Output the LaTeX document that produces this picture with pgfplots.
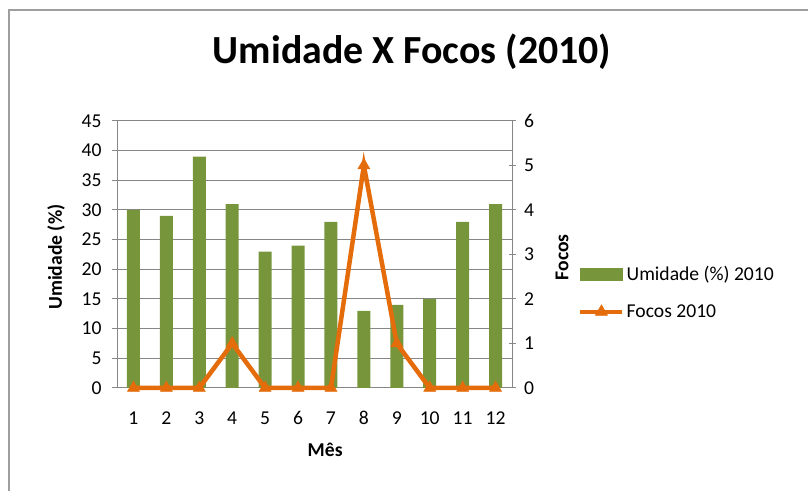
\documentclass[border=0pt]{standalone}
\usepackage{pgfplots}
\pgfplotsset{compat=1.18}
\usepackage{fontspec}
\setmainfont{Carlito}
\definecolor{barG}{RGB}{119,150,60}
\definecolor{lineO}{RGB}{228,108,10}
\definecolor{gridG}{RGB}{134,134,134}
\newcommand{\tfont}{\fontsize{19.7}{23}\selectfont}

\pgfplotstableread{
mes umidade focos
1 30 0
2 29 0
3 39 0
4 31 1
5 23 0
6 24 0
7 28 0
8 13 5
9 14 1
10 15 0
11 28 0
12 31 0
}\datatable

\begin{document}
\begin{tikzpicture}[x=1bp,y=1bp]
\useasboundingbox (0,0) rectangle (808,491);
\draw[gridG!80, line width=1.2bp] (9,0) -- (9,481) -- (808,481);
\node[font=\fontsize{40}{46}\selectfont\bfseries] at (412,439) {Umidade X Focos (2010)};
\begin{axis}[
  at={(117bp,103bp)}, anchor=south west,
  width=395bp, height=267bp, scale only axis,
  xmin=0.5, xmax=12.5, ymin=0, ymax=45,
  ytick={0,5,...,45},
  xtick={1,...,12},
  axis line style={gridG, line width=1bp},
  axis x line*=bottom, axis y line*=left,
  ymajorgrids, grid style={gridG, line width=1bp},
  xtick style={draw=none},
  ytick style={gridG, line width=1bp},
  tick align=outside,
  major tick length=5bp,
  /pgf/number format/assume math mode=true,
  ticklabel style={font=\tfont, text=black},
  xticklabel style={yshift=-15bp},
  yticklabel style={xshift=-7bp},
  ylabel={Umidade (\%)},
  ylabel style={font=\tfont\bfseries, at={(axis description cs:-0.154,0.49)}, anchor=center},
  xlabel={Mês},
  xlabel style={font=\tfont\bfseries, at={(axis description cs:0.527,-0.232)}, anchor=center},
]
\addplot[ybar, bar width=13bp, fill=barG, draw=none] table[x=mes, y=umidade] {\datatable};
\end{axis}
\begin{axis}[
  at={(117bp,103bp)}, anchor=south west,
  width=395bp, height=267bp, scale only axis,
  xmin=0.5, xmax=12.5, ymin=0, ymax=6,
  ytick={0,...,6},
  axis x line=none,
  axis y line*=right,
  axis line style={gridG, line width=1bp},
  tick style={gridG, line width=1bp},
  tick align=center,
  major tick length=7bp,
  /pgf/number format/assume math mode=true,
  ticklabel style={font=\tfont, text=black},
  yticklabel style={xshift=5bp},
  ylabel={Focos},
  ylabel style={font=\tfont\bfseries, at={(axis description cs:1.127,0.49)}, anchor=center, rotate=0},
  clip=false,
  legend style={at={(axis description cs:1.167,0.358)}, anchor=west, draw=none, fill=none,
    font=\tfont, row sep=19bp, inner sep=0pt, cells={anchor=west}},
  legend cell align=left,
]
\addlegendimage{legend image code/.code={\fill[barG] (0bp,-6bp) rectangle (42bp,6bp);}}
\addlegendentry{Umidade (\%) 2010}
\addplot[lineO, line width=4.5bp, mark=triangle*, mark size=7bp, mark options={solid, fill=lineO, line width=0.5bp},
  legend image code/.code={\draw[lineO, line width=4.5bp] (0bp,0bp) -- (42bp,0bp); \draw plot[mark=triangle*, mark size=7bp, mark options={fill=lineO, line width=0.5bp}] coordinates {(21bp,0bp)};}]
  table[x=mes, y=focos] {\datatable};
\addlegendentry{Focos 2010}
\end{axis}
\end{tikzpicture}
\end{document}
